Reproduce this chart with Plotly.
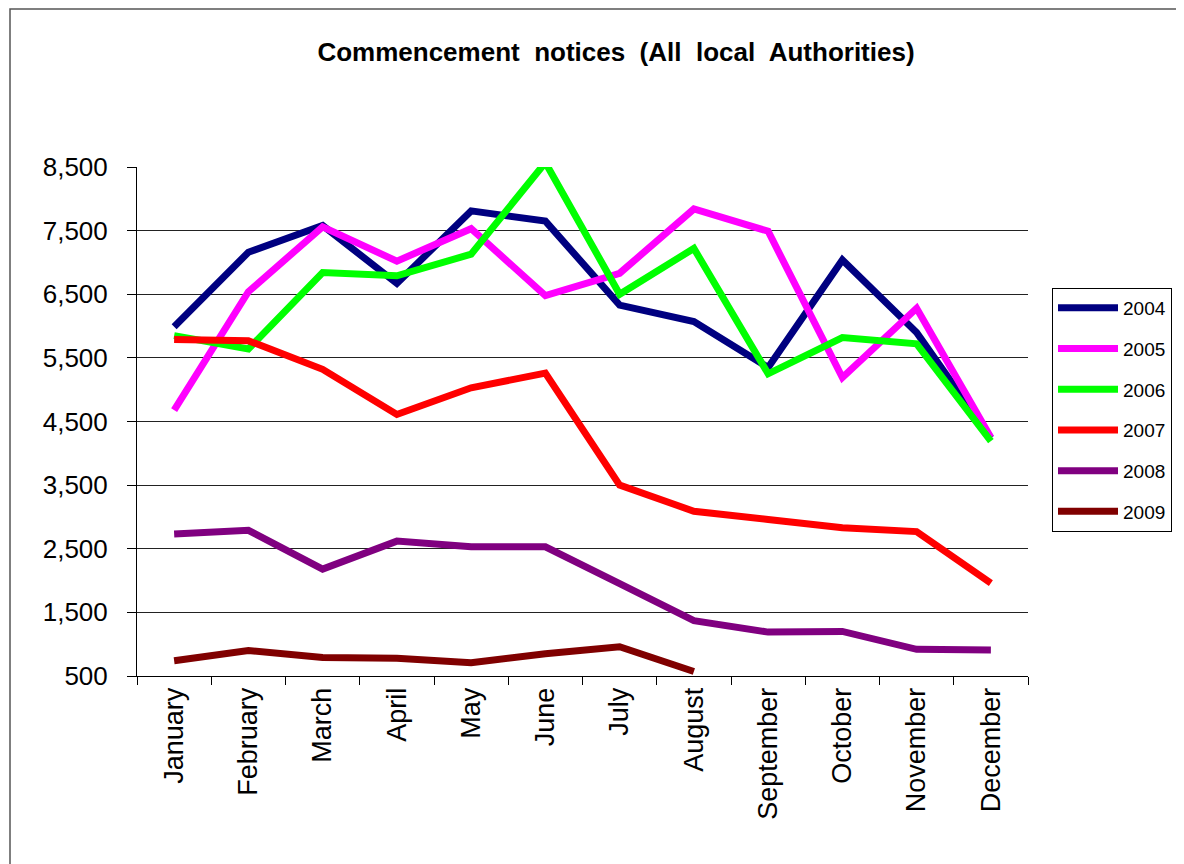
import plotly.graph_objects as go

months = ["January", "February", "March", "April", "May", "June", "July",
          "August", "September", "October", "November", "December"]

y2004 = [5990, 7160, 7580, 6670, 7810, 7650, 6330, 6070, 5350, 7040, 5900, 4240]
y2005 = [4680, 6540, 7560, 7020, 7530, 6480, 6830, 7840, 7490, 5190, 6280, 4250]
y2006 = [5850, 5640, 6840, 6790, 7130, 8570, 6500, 7220, 5250, 5820, 5720, 4190]
y2007 = [5790, 5770, 5320, 4610, 5030, 5260, 3500, 3090, 2960, 2830, 2770, 1960]
y2008 = [2730, 2790, 2180, 2620, 2530, 2530, 1950, 1370, 1190, 1200, 920, 910]
y2009 = [740, 900, 790, 780, 710, 850, 960, 570]

series_names = ["2004", "2005", "2006", "2007", "2008", "2009"]
series_values = [y2004, y2005, y2006, y2007, y2008, y2009]
colors = ["#000080", "#FF00FF", "#00FF00", "#FF0000", "#800080", "#800000"]

ytick_vals = [500, 1500, 2500, 3500, 4500, 5500, 6500, 7500, 8500]

fig = go.Figure()
for name, vals, col in zip(series_names, series_values, colors):
    fig.add_trace(go.Scatter(
        x=months[:len(vals)], y=vals, name=name, mode="lines",
        line=dict(color=col, width=7), legendgroup=name,
    ))

OFF = 8  # page body margin
W, H = 1184 - OFF, 864 - OFF
L, R, T, B = 137 - OFF, 1028 - OFF, 167 - OFF, 676 - OFF
pw, ph = R - L, B - T

NB = "\u00a0"
title_text = ("Commencement" + NB + " notices" + NB + " (All" + NB + " local" + NB + " Authorities)")

fig.update_layout(
    width=W, height=H,
    margin=dict(l=L, r=W - R, t=T, b=H - B),
    paper_bgcolor="white", plot_bgcolor="white",
    font=dict(family="Liberation Sans, Arial, sans-serif", color="black"),
    title=dict(text=title_text,
               font=dict(size=26, family="Liberation Sans, Arial, sans-serif", color="black", weight="bold"),
               x=(616 - OFF - L) / pw, xref="paper", xanchor="center",
               y=1 - (52 - OFF) / H, yref="container", yanchor="middle"),
    showlegend=True,
    legend=dict(
        x=(1052 - OFF - L) / pw, y=(B - (288 - OFF)) / ph, xanchor="left", yanchor="top",
        bordercolor="black", borderwidth=1, bgcolor="white",
        font=dict(size=19, family="Liberation Sans, Arial, sans-serif"),
        tracegroupgap=13, itemwidth=60,
    ),
    xaxis=dict(
        type="category", categoryorder="array", categoryarray=months,
        range=[-0.5, 11.5], showgrid=False, zeroline=False,
        showline=True, linecolor="black", linewidth=1,
        ticks="outside", ticklen=8, tickcolor="black", tickson="boundaries",
        tickangle=-90, tickfont=dict(size=27),
    ),
    yaxis=dict(
        range=[500, 8500], tickvals=ytick_vals, tickformat=",",
        showgrid=True, gridcolor="#222222", gridwidth=1, zeroline=False,
        showline=True, linecolor="black", linewidth=1,
        ticks="outside", ticklen=9, tickcolor="black",
        tickfont=dict(size=26), ticklabelstandoff=14,
    ),
    shapes=[dict(type="rect", xref="paper", yref="paper",
                 x0=(10 - OFF - L) / pw, x1=(W + 20 - L) / pw,
                 y0=(B - (H + 20)) / ph, y1=(B - 1) / ph,
                 line=dict(color="#555555", width=1.5), fillcolor="rgba(0,0,0,0)",
                 layer="below")],
)

fig.write_html("out.html")
